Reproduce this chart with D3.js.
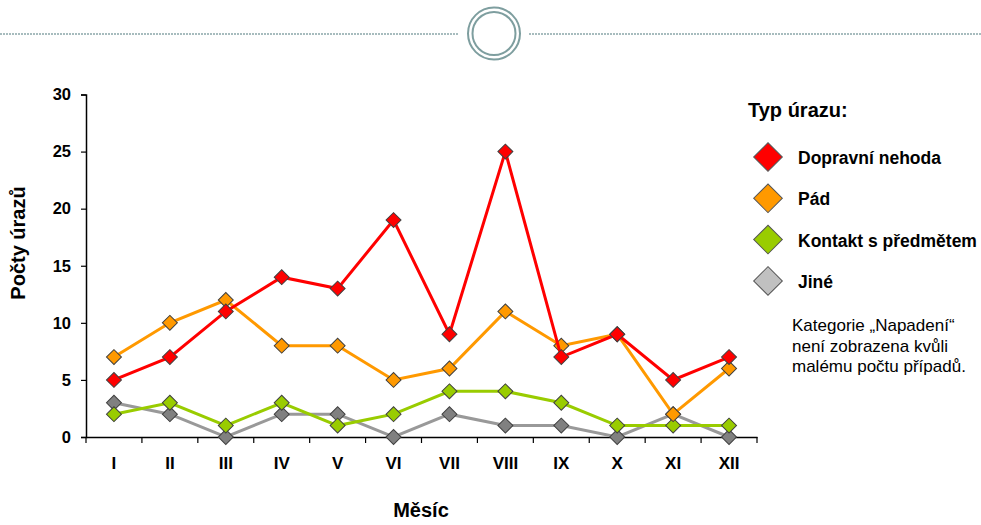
<!DOCTYPE html>
<html><head><meta charset="utf-8">
<script src="https://cdn.jsdelivr.net/npm/d3@7"></script>
<style>body{margin:0;background:#fff;}svg{display:block;font-family:Arial,"Liberation Sans",sans-serif;}</style>
</head><body>
<svg id="c" width="981" height="525"></svg>
<script>
const months = ["I","II","III","IV","V","VI","VII","VIII","IX","X","XI","XII"];
const dopravniNehoda = [5,7,11,14,13,19,9,25,7,9,5,7];
const pad = [7,10,12,8,8,5,6,11,8,9,2,6];
const kontakt = [2,3,1,3,1,2,4,4,3,1,1,1];
const jine = [3,2,0,2,2,0,2,1,1,0,2,0];
const yTicks = [0,5,10,15,20,25,30];
const seriesNames = ["Dopravní nehoda","Pád","Kontakt s předmětem","Jiné"];
const lineColors = ["#ff0000","#ff9900","#99cc00","#999999"];
const markerColors = ["#ff0000","#ff9900","#99cc00","#808080"];
const legendMarkerColors = ["#ff0000","#ff9900","#99cc00","#c0c0c0"];
const seriesData = [dopravniNehoda,pad,kontakt,jine];

const svg = d3.select("#c");

// top decoration
const deco = svg.append("g");
deco.append("line").attr("x1",0).attr("x2",459).attr("y1",34).attr("y2",34)
  .attr("stroke","#a7bcbe").attr("stroke-width",2).attr("stroke-dasharray","2,1");
deco.append("line").attr("x1",529).attr("x2",981).attr("y1",34).attr("y2",34)
  .attr("stroke","#a7bcbe").attr("stroke-width",2).attr("stroke-dasharray","2,1");
deco.append("circle").attr("cx",494).attr("cy",33.5).attr("r",26).attr("fill","none").attr("stroke","#7e9e9f").attr("stroke-width",2);
deco.append("circle").attr("cx",494).attr("cy",33.5).attr("r",21.5).attr("fill","none").attr("stroke","#7e9e9f").attr("stroke-width",2);

const x = d3.scaleBand().domain(months).range([86,757]);
const y = d3.scaleLinear().domain([0,30]).range([437,94.5]);

const gx = svg.append("g").attr("transform","translate(0,437)")
  .call(d3.axisBottom(x).tickSize(0).tickPadding(20));
gx.select(".domain").attr("stroke","#000").attr("stroke-width",1.5);
gx.selectAll("text").attr("font-size",17).attr("font-weight","bold").attr("fill","#000");
// boundary ticks
const bounds = months.map(m=>x(m)).concat([x(months[months.length-1])+x.bandwidth()]);
svg.append("g").selectAll("line").data(bounds).join("line")
  .attr("x1",d=>d).attr("x2",d=>d).attr("y1",437).attr("y2",443)
  .attr("stroke","#000").attr("stroke-width",1.2);

const gy = svg.append("g").attr("transform","translate(86,0)")
  .call(d3.axisLeft(y).tickValues(yTicks).tickSize(5).tickPadding(10));
gy.select(".domain").attr("stroke","#000").attr("stroke-width",1.5);
gy.selectAll(".tick line").attr("stroke","#000").attr("stroke-width",1.2);
gy.selectAll("text").attr("font-size",16.5).attr("font-weight","bold").attr("fill","#000");

svg.append("text").attr("transform","translate(25,243) rotate(-90)")
  .attr("text-anchor","middle").attr("font-size",20).attr("font-weight","bold").text("Počty úrazů");
svg.append("text").attr("x",421).attr("y",517)
  .attr("text-anchor","middle").attr("font-size",20).attr("font-weight","bold").text("Měsíc");

const cx = i => x(months[i]) + x.bandwidth()/2;
const line = d3.line().x((d,i)=>cx(i)).y(d=>y(d));

// draw in reverse so red is on top
for (let s = seriesData.length-1; s>=0; s--) {
  const g = svg.append("g");
  g.append("path").datum(seriesData[s]).attr("d",line)
    .attr("fill","none").attr("stroke",lineColors[s]).attr("stroke-width",3);
  g.selectAll("path.m").data(seriesData[s]).join("path").attr("class","m")
    .attr("d",d3.symbol().type(d3.symbolSquare).size(112)())
    .attr("transform",(d,i)=>`translate(${cx(i)},${y(d)}) rotate(45)`)
    .attr("fill",markerColors[s]).attr("stroke","#404040").attr("stroke-width",1);
}

// legend
svg.append("text").attr("x",748).attr("y",117).attr("font-size",20).attr("font-weight","bold").text("Typ úrazu:");
const lg = svg.append("g").selectAll("g").data(seriesNames).join("g")
  .attr("transform",(d,i)=>`translate(768,${157+i*41.3})`);
lg.append("path").attr("d",d3.symbol().type(d3.symbolSquare).size(410)())
  .attr("transform","rotate(45)")
  .attr("fill",(d,i)=>legendMarkerColors[i]).attr("stroke","#555").attr("stroke-width",1);
lg.append("text").attr("x",30).attr("y",7).attr("font-size",17.5).attr("font-weight","bold").text(d=>d);

const note = ["Kategorie „Napadení“","není zobrazena kvůli","malému počtu případů."];
svg.append("g").selectAll("text").data(note).join("text")
  .attr("x",792).attr("y",(d,i)=>331+i*20.5).attr("font-size",17).text(d=>d);
</script>
</body></html>
